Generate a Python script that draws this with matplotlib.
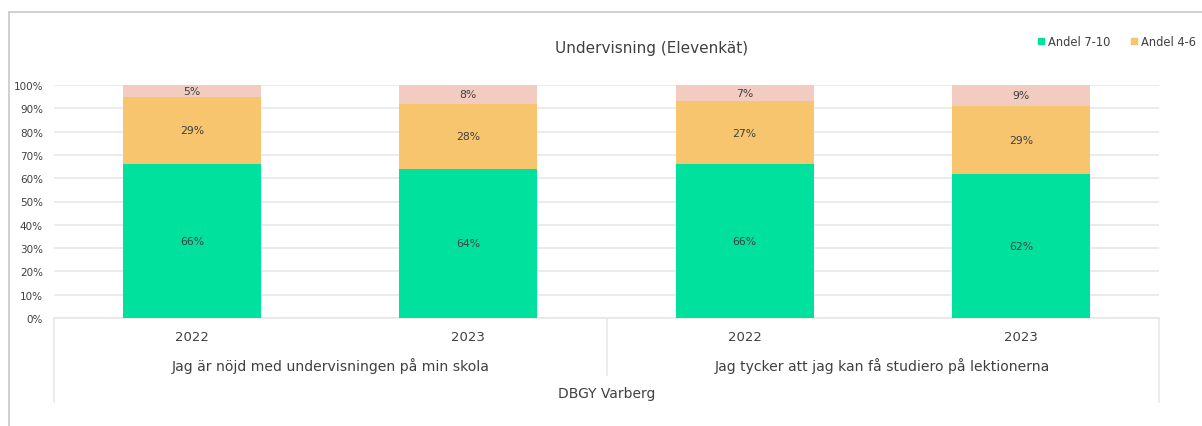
import matplotlib.pyplot as plt
from matplotlib.patches import Rectangle
from matplotlib.lines import Line2D

# data
years = ["2022", "2023", "2022", "2023"]
groups = ["Jag är nöjd med undervisningen på min skola",
          "Jag tycker att jag kan få studiero på lektionerna"]
school = "DBGY Varberg"
andel_7_10 = [66, 64, 66, 62]
andel_4_6 = [29, 28, 27, 29]
andel_1_3 = [5, 8, 7, 9]

green = "#00E19E"
orange = "#F8C56F"
pink = "#F2CBC1"
grid_c = "#E6E6E6"
txt = "#404040"

plt.rcParams["font.family"] = ["DejaVu Sans"]

W, H = 1202, 427
fig = plt.figure(figsize=(W / 100, H / 100), dpi=100)

# plot area in pixel coordinates of the reference
x0, x1, y_top, y_bot = 54, 1159, 86, 319
ax = fig.add_axes([x0 / W, 1 - y_bot / H, (x1 - x0) / W, (y_bot - y_top) / H])

n = len(years)
xs = list(range(n))
ax.bar(xs, andel_7_10, width=0.5, color=green, zorder=3)
ax.bar(xs, andel_4_6, width=0.5, bottom=andel_7_10, color=orange, zorder=3)
bottom3 = [a + b for a, b in zip(andel_7_10, andel_4_6)]
ax.bar(xs, andel_1_3, width=0.5, bottom=bottom3, color=pink, zorder=3)

for i in xs:
    ax.text(i, andel_7_10[i] / 2, f"{andel_7_10[i]}%", ha="center", va="center",
            fontsize=7.8, color=txt, zorder=4)
    ax.text(i, andel_7_10[i] + andel_4_6[i] / 2, f"{andel_4_6[i]}%", ha="center",
            va="center", fontsize=7.8, color=txt, zorder=4)
    ax.text(i, bottom3[i] + andel_1_3[i] / 2, f"{andel_1_3[i]}%", ha="center",
            va="center", fontsize=7.8, color=txt, zorder=4)

ax.set_xlim(-0.5, n - 0.5)
ax.set_ylim(0, 100)
ax.set_yticks(range(0, 101, 10))
ax.set_yticklabels([f"{v}%" for v in range(0, 101, 10)], fontsize=7.5, color=txt)
ax.yaxis.grid(True, color=grid_c, linewidth=1.1, zorder=0)
ax.set_xticks([])
ax.tick_params(axis="y", length=0, pad=8)
for s in ["top", "right", "left"]:
    ax.spines[s].set_visible(False)
ax.spines["bottom"].set_color(grid_c)
ax.spines["bottom"].set_linewidth(1.1)

# multi-level category axis
def fy(py):
    return 1 - py / H

def fx(px):
    return px / W

mid = (x0 + x1) / 2
for px, py_end in [(x0, 403), (mid, 376), (x1, 403)]:
    fig.add_artist(Line2D([fx(px), fx(px)], [fy(y_bot), fy(py_end)],
                          color=grid_c, linewidth=1.1))

step = (x1 - x0) / n
for i, yr in enumerate(years):
    fig.text(fx(x0 + step * (i + 0.5)), fy(338), yr, ha="center", va="center",
             fontsize=9.5, color=txt)
for j, g in enumerate(groups):
    fig.text(fx(x0 + step * (2 * j + 1)), fy(366), g, ha="center", va="center",
             fontsize=10.1, color=txt)
fig.text(fx(mid), fy(394), school, ha="center", va="center", fontsize=10, color=txt)

# title
fig.text(fx(652), fy(48), "Undervisning (Elevenkät)", ha="center", va="center",
         fontsize=11, color=txt)

# legend (clipped at the right edge like the reference)
for px, label, c in [(1038, "Andel 7-10", green), (1131, "Andel 4-6", orange)]:
    fig.add_artist(Rectangle((fx(px), fy(45)), 6 / W, 6 / H, color=c,
                             transform=fig.transFigure))
    fig.text(fx(px + 10), fy(42), label, ha="left", va="center", fontsize=8.3, color=txt)

# outer chart border
fig.add_artist(Line2D([fx(9), fx(9)], [fy(13), 0], color="#C8C8C8", linewidth=1.2))
fig.add_artist(Line2D([fx(9), 1], [fy(13), fy(13)], color="#C8C8C8", linewidth=1.2))

fig.savefig("out.png", dpi=100)
